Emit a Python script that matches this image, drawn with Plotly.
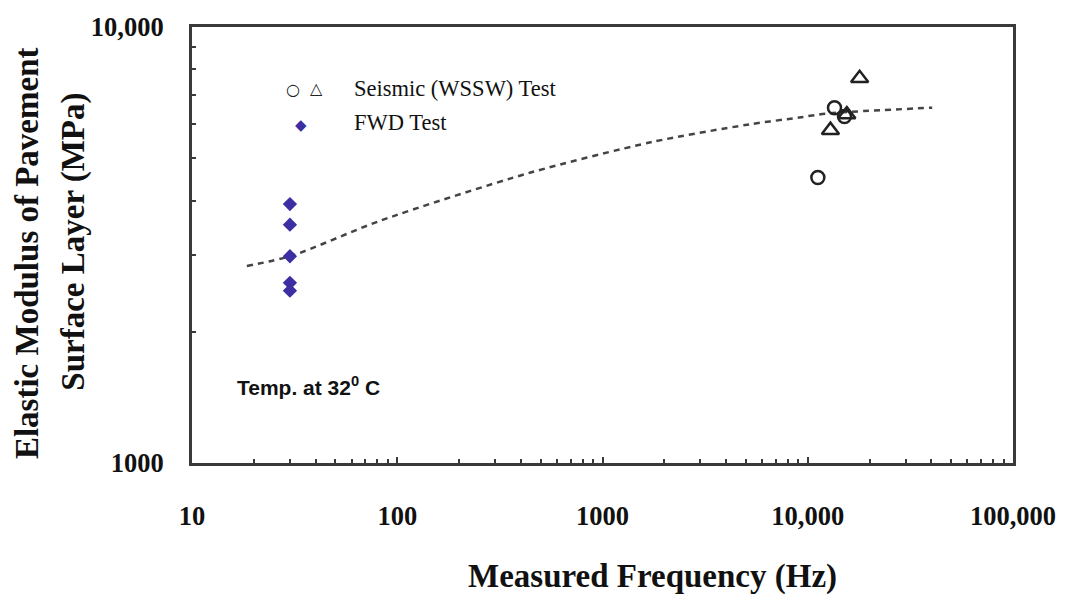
import plotly.graph_objects as go

# ---- data ----
fwd_freq = [30, 30, 30, 30, 30]
fwd_E = [3925, 3520, 2980, 2590, 2485]

seis_circle_freq = [13500, 15100, 11200]
seis_circle_E = [6530, 6230, 4515]

seis_tri_freq = [17900, 15500, 12900]
seis_tri_E = [7630, 6300, 5800]

trend_freq = [18.5, 30.7, 82, 442, 1750, 5190, 9090, 12300, 40400]
trend_E = [2830, 2990, 3590, 4630, 5450, 5980, 6200, 6330, 6530]

x_tickvals = [10, 100, 1000, 10000, 100000]
x_ticktext = ["10", "100", "1000", "10,000", "100,000"]
y_tickvals = [1000, 10000]
y_ticktext = ["1000", "10,000"]
x_minor_ticks = [m * 10 ** d for d in range(1, 5) for m in range(2, 10)]
y_minor_ticks = [m * 1000 for m in range(2, 10)]

AXCOL = "#3a3a3a"
SERIF = "Liberation Serif"

fig = go.Figure()

fig.add_trace(go.Scatter(
    x=trend_freq, y=trend_E, mode="lines",
    line=dict(color="#444444", width=2.5, dash="6px,5px", shape="spline", smoothing=0.8),
    showlegend=False, hoverinfo="skip"))

fig.add_trace(go.Scatter(
    x=fwd_freq, y=fwd_E, mode="markers",
    marker=dict(symbol="diamond", size=11, color="#3b2fa3", line=dict(width=0)),
    showlegend=False))

fig.add_trace(go.Scatter(
    x=seis_circle_freq, y=seis_circle_E, mode="markers",
    marker=dict(symbol="circle-open", size=13, color="#222222", line=dict(width=2.5)),
    showlegend=False))

fig.add_trace(go.Scatter(
    x=seis_tri_freq, y=seis_tri_E, mode="markers",
    marker=dict(symbol="triangle-up-open", size=15, color="#222222", line=dict(width=2.5)),
    showlegend=False))

axis_common = dict(
    type="log", showgrid=False, zeroline=False,
    showline=True, linecolor=AXCOL, linewidth=3, mirror=True,
    ticks="inside", ticklen=6, tickwidth=2, tickcolor=AXCOL,
    tickfont=dict(family=SERIF, size=26.5, color="#111111", weight="bold"),
)
minor_common = dict(ticks="inside", ticklen=4, tickwidth=1.5, tickcolor=AXCOL, showgrid=False,
                    tickmode="array")

fig.update_xaxes(**axis_common, range=[1, 5], tickvals=x_tickvals, ticktext=x_ticktext,
                 ticklabelstandoff=27, minor=dict(**minor_common, tickvals=x_minor_ticks))
fig.update_yaxes(**axis_common, range=[3, 4], tickvals=y_tickvals, ticktext=y_ticktext,
                 ticklabelstandoff=20, minor=dict(**minor_common, tickvals=y_minor_ticks))

annotations = [
    dict(text="<b>Measured Frequency (Hz)</b>", x=0.561, y=-0.26, xref="paper", yref="paper",
         showarrow=False, font=dict(family=SERIF, size=33, color="#111111"),
         xanchor="center", yanchor="middle"),
    dict(text="<b>Elastic Modulus of Pavement</b>", x=-0.2007, y=0.482, xref="paper", yref="paper",
         showarrow=False, textangle=-90, font=dict(family=SERIF, size=33, color="#111111"),
         xanchor="center", yanchor="middle"),
    dict(text="<b>Surface Layer (MPa)</b>", x=-0.1448, y=0.508, xref="paper", yref="paper",
         showarrow=False, textangle=-90, font=dict(family=SERIF, size=33, color="#111111"),
         xanchor="center", yanchor="middle"),
    dict(text="○", x=0.1229, y=0.856, xref="paper", yref="paper", showarrow=False,
         font=dict(family="DejaVu Sans", size=16, color="#222222"), xanchor="center", yanchor="middle"),
    dict(text="△", x=0.152, y=0.858, xref="paper", yref="paper", showarrow=False,
         font=dict(family="DejaVu Sans", size=16, color="#222222"), xanchor="center", yanchor="middle"),
    dict(text="Seismic (WSSW) Test", x=0.1946, y=0.858, xref="paper", yref="paper", showarrow=False,
         font=dict(family=SERIF, size=22.5, color="#111111"), xanchor="left", yanchor="middle"),
    dict(text="◆", x=0.1326, y=0.7743, xref="paper", yref="paper", showarrow=False,
         font=dict(family="DejaVu Sans", size=15, color="#3b2fa3"), xanchor="center", yanchor="middle"),
    dict(text="FWD Test", x=0.1946, y=0.781, xref="paper", yref="paper", showarrow=False,
         font=dict(family=SERIF, size=22.5, color="#111111"), xanchor="left", yanchor="middle"),
    dict(text="<b>Temp. at 32<sup>0</sup> C</b>", x=0.0523, y=0.176, xref="paper", yref="paper", showarrow=False,
         font=dict(family="Liberation Sans", size=21, color="#111111"), xanchor="left", yanchor="middle"),
]

fig.update_layout(
    width=1068, height=599,
    margin=dict(l=192, r=54, t=20, b=136),
    paper_bgcolor="white", plot_bgcolor="white",
    annotations=annotations,
    showlegend=False,
)

fig.write_html("out.html")
